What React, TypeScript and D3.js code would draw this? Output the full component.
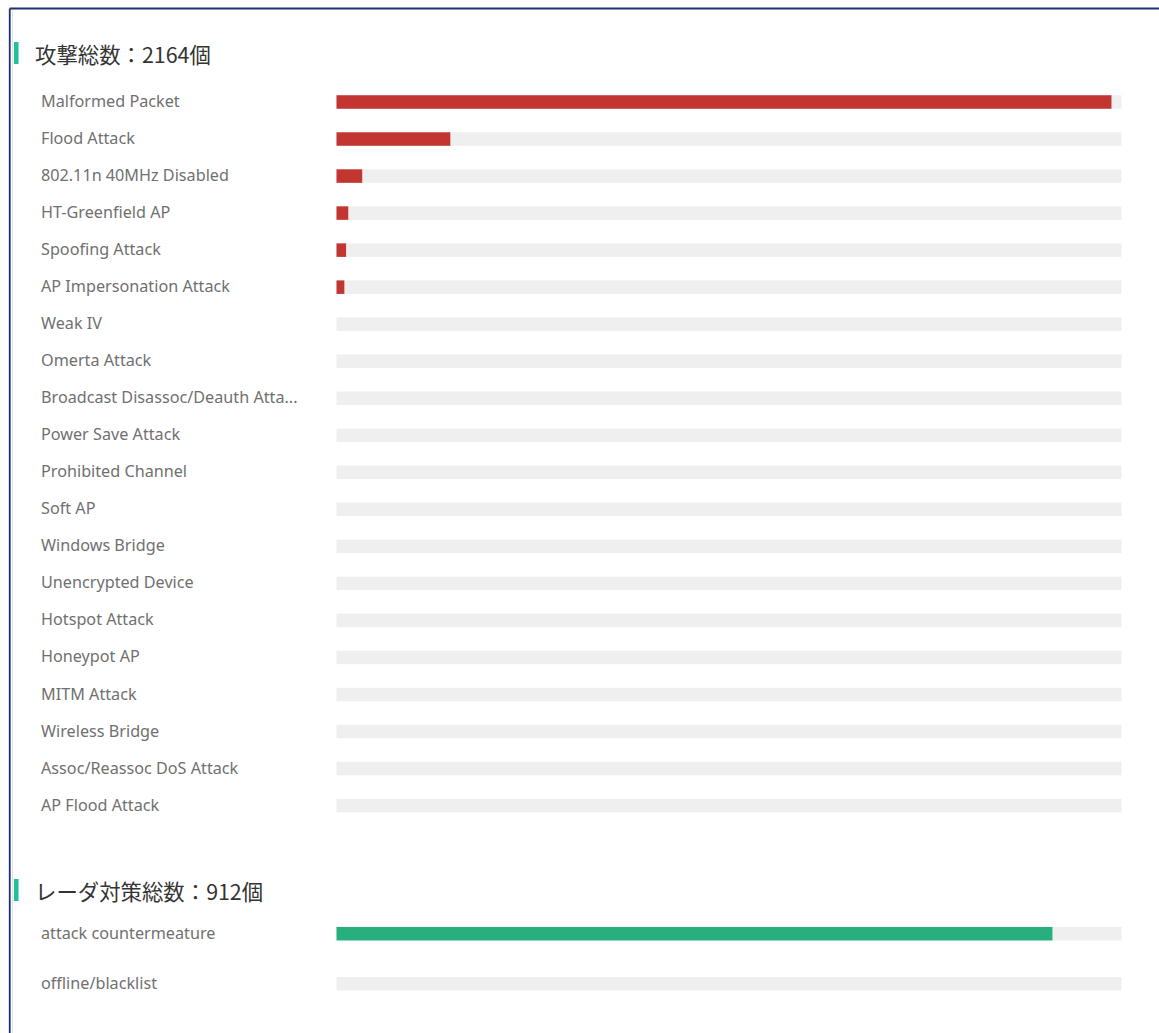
import React from "react";
import * as d3 from "d3";

const attackTitle = "攻撃総数：2164個";
const attackNames = [
  "Malformed Packet",
  "Flood Attack",
  "802.11n 40MHz Disabled",
  "HT-Greenfield AP",
  "Spoofing Attack",
  "AP Impersonation Attack",
  "Weak IV",
  "Omerta Attack",
  "Broadcast Disassoc/Deauth Atta...",
  "Power Save Attack",
  "Prohibited Channel",
  "Soft AP",
  "Windows Bridge",
  "Unencrypted Device",
  "Hotspot Attack",
  "Honeypot AP",
  "MITM Attack",
  "Wireless Bridge",
  "Assoc/Reassoc DoS Attack",
  "AP Flood Attack",
];
const attackValues = [1777, 261, 59, 27, 22, 18, 0, 0, 0, 0, 0, 0, 0, 0, 0, 0, 0, 0, 0, 0];

const counterTitle = "レーダ対策総数：912個";
const counterNames = ["attack countermeature", "offline/blacklist"];
const counterValues = [912, 0];

const W = 1159;
const H = 1033;
const trackX0 = 336.5;
const trackX1 = 1121.5;
const barH = 13.5;
const labelX = 41;
const labelFont = "'Noto Sans', 'DejaVu Sans', sans-serif";
const titleFont = "'Noto Sans CJK JP', 'Noto Sans', sans-serif";

function Section({
  title,
  titleY,
  names,
  values,
  y0,
  y1,
  color,
}: {
  title: string;
  titleY: number;
  names: string[];
  values: number[];
  y0: number;
  y1: number;
  color: string;
}) {
  const x = d3
    .scaleLinear()
    .domain([0, d3.max(values) || 1])
    .nice()
    .range([trackX0, trackX1]);
  const y = d3.scalePoint<string>().domain(names).range([y0, y1]);
  return (
    <g>
      <rect x={14} y={titleY - 11} width={4.5} height={22} fill="#1fc19a" />
      <text
        x={35}
        y={titleY}
        dominantBaseline="central"
        fontFamily={titleFont}
        fontSize={21.4}
        fill="#333"
      >
        {title}
      </text>
      {names.map((n, i) => {
        const cy = y(n) as number;
        return (
          <g key={n}>
            <text
              x={labelX}
              y={cy - 1}
              dominantBaseline="central"
              fontFamily={labelFont}
              fontSize={16.2}
              fill="#707070"
            >
              {n}
            </text>
            <rect
              x={trackX0}
              y={cy - barH / 2}
              width={trackX1 - trackX0}
              height={barH}
              fill="#efefef"
            />
            {values[i] > 0 && (
              <rect
                x={trackX0}
                y={cy - barH / 2}
                width={x(values[i]) - trackX0}
                height={barH}
                fill={color}
              />
            )}
          </g>
        );
      })}
    </g>
  );
}

export default function App() {
  return (
    <svg
      width={W}
      height={H}
      style={{ position: "absolute", left: 0, top: 0, background: "#fff" }}
    >
      <rect x={0} y={0} width={W} height={H} fill="#fff" />
      <line x1={9.75} y1={8.5} x2={W} y2={8.5} stroke="#1c3170" strokeWidth={1.8} />
      <line x1={9.75} y1={8.5} x2={9.75} y2={H} stroke="#1c3170" strokeWidth={1.8} />
      <line x1={12.5} y1={10} x2={12.5} y2={H} stroke="#e4e4e4" strokeWidth={1} />
      <Section
        title={attackTitle}
        titleY={53}
        names={attackNames}
        values={attackValues}
        y0={102}
        y1={805.6}
        color="#c23531"
      />
      <Section
        title={counterTitle}
        titleY={890}
        names={counterNames}
        values={counterValues}
        y0={933.7}
        y1={983.7}
        color="#27b07e"
      />
    </svg>
  );
}
